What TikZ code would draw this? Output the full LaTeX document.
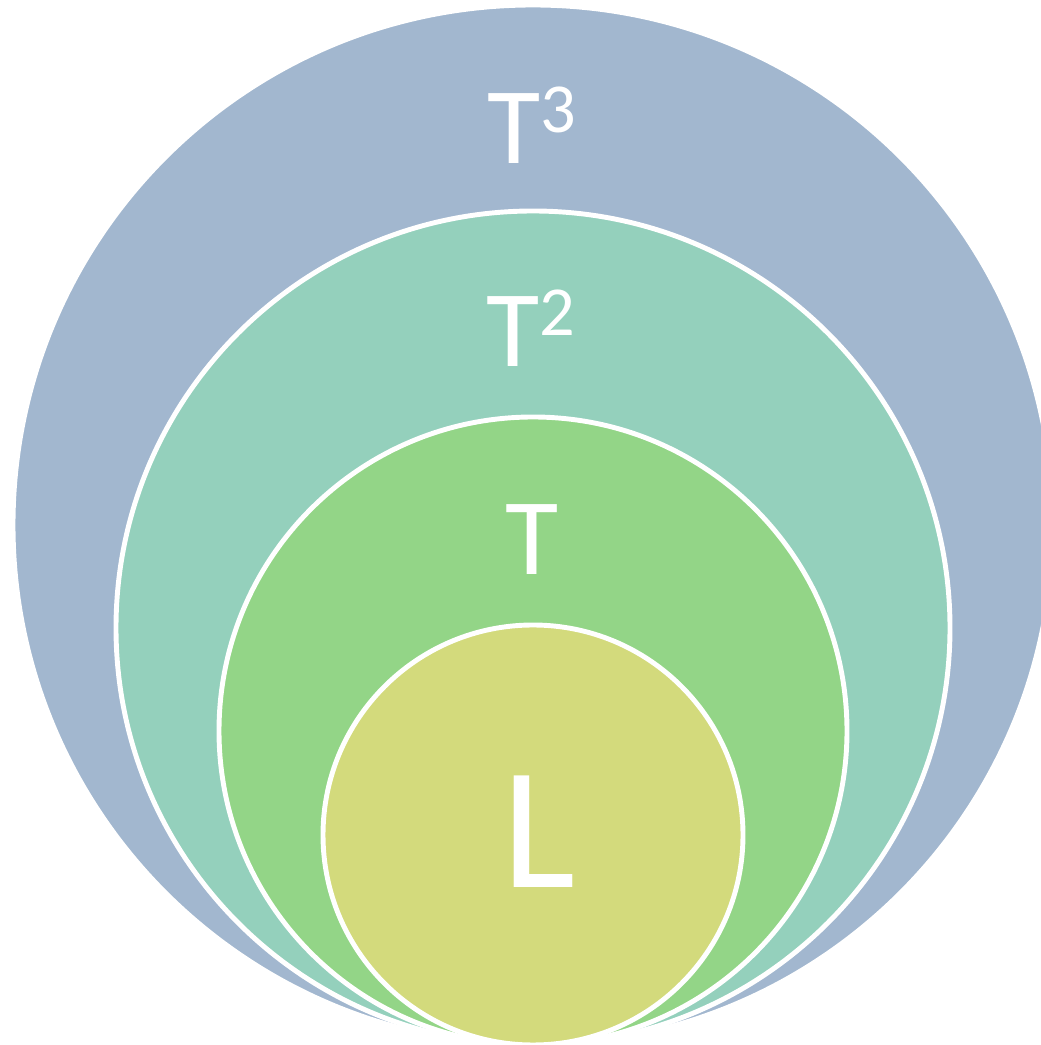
\documentclass[tikz,border=0pt]{standalone}
\usepackage{fontspec}
\setmainfont{Carlito}
\usepackage{xcolor}
\definecolor{RingCube}{HTML}{A2B7CF}
\definecolor{RingSquare}{HTML}{94D0BC}
\definecolor{RingT}{HTML}{93D587}
\definecolor{RingL}{HTML}{D3DA7C}
\usepackage{tikz}

\newcommand{\supnum}[1]{\raisebox{18pt}{\fontsize{40}{40}\selectfont #1}}

\begin{document}
\begin{tikzpicture}[ring/.style={circle, draw=white, line width=2.8pt, inner sep=0pt},
  every node/.style={text=white, align=center}]
  \useasboundingbox (0,0) rectangle (20.82,20.9);
  \clip (0,0) rectangle (20.82,20.9);
  \node[ring, fill=RingCube, minimum size=20.8cm] (cube) at (10.66,10.40) {};
  \node[ring, fill=RingSquare, minimum size=16.68cm] (square) at (10.66,8.34) {};
  \node[ring, fill=RingT, minimum size=12.56cm] (tset) at (10.66,6.28) {};
  \node[ring, fill=RingL, minimum size=8.40cm] (lset) at (10.66,4.20) {};
  % labels
  \node[anchor=base, font=\fontsize{62}{62}\selectfont] (cubelbl) at (10.63,17.62) {T\supnum{3}};
  \node[anchor=base, font=\fontsize{62}{62}\selectfont] (squarelbl) at (10.62,13.56) {T\supnum{2}};
  \node[anchor=base, font=\fontsize{62}{62}\selectfont] (tlbl) at (10.64,9.40) {T};
  \node[anchor=base, font=\fontsize{99}{99}\selectfont] (llbl) at (10.78,3.14) {L};
\end{tikzpicture}
\end{document}
